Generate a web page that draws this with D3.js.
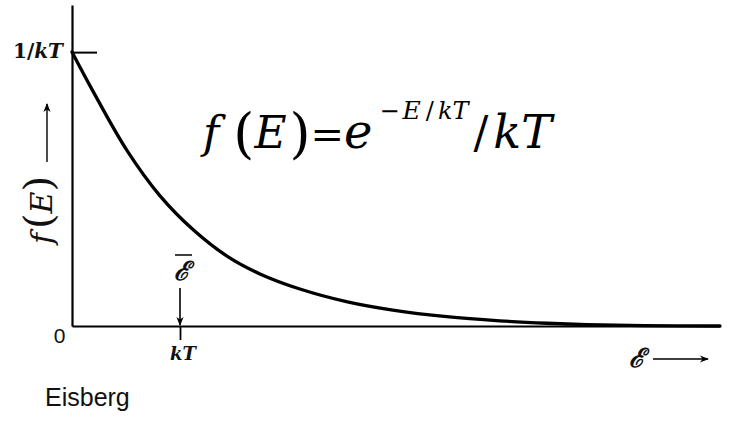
<!DOCTYPE html>
<html>
<head>
<meta charset="utf-8">
<script src="https://cdn.jsdelivr.net/npm/d3@7"></script>
<style>
  html, body { margin: 0; padding: 0; background: #fff; }
  svg { display: block; }
</style>
</head>
<body>
<svg id="chart" width="734" height="421"></svg>
<script>
// Energy in units of kT, probability density in units of 1/kT
const energy  = [0, 0.19, 0.51, 0.815, 1.12, 1.435, 1.74, 2.11, 2.55, 2.97, 3.47, 3.96, 4.40, 4.77, 5.3, 6.0];
const density = [1.0, 0.86, 0.64, 0.475, 0.352, 0.255, 0.19, 0.135, 0.088, 0.058, 0.034, 0.019, 0.010, 0.005, 0.0015, 0.0];
const xTickValues = [1];
const xTickLabels = ["kT"];
const yTickValues = [1];
const yTickLabels = ["1/kT"];

const svg = d3.select("#chart");

const x = d3.scaleLinear().domain([0, 6]).range([72, 720]);
const y = d3.scaleLinear().domain([0, 1]).range([326, 52]);

const serif = "'Liberation Serif', 'DejaVu Serif', serif";
const bookSerif = "'DejaVu Serif', serif";

// y axis: vertical line from zero to above the peak, tick pointing inward
const yAxis = d3.axisLeft(y.copy().domain([0, 1.172]).range([326, 5]))
  .tickValues(yTickValues)
  .tickSizeInner(-25)
  .tickSizeOuter(0)
  .tickFormat(() => "");
const gy = svg.append("g").attr("transform", `translate(${x(0)},0)`).call(yAxis);
gy.select(".domain").attr("stroke", "#000").attr("stroke-width", 2.2);
gy.selectAll(".tick line").attr("stroke", "#000").attr("stroke-width", 2);

// 1/kT label
const [num, den] = yTickLabels[0].split("/");
const yl = svg.append("text")
  .attr("x", 63).attr("y", y(yTickValues[0]) + 6)
  .attr("text-anchor", "end")
  .attr("font-family", bookSerif).attr("font-weight", "bold").attr("font-size", 20)
  .attr("fill", "#111");
yl.append("tspan").text(num + "/");
yl.append("tspan").attr("font-style", "italic").text(den);

// x axis with the kT tick
const xAxis = d3.axisBottom(x)
  .tickValues(xTickValues)
  .tickSizeInner(14)
  .tickSizeOuter(0)
  .tickFormat("");
const gx = svg.append("g").attr("transform", `translate(0,${y(0)})`).call(xAxis);
gx.select(".domain").attr("stroke", "#000").attr("stroke-width", 2.2);
gx.selectAll(".tick line").attr("stroke", "#000").attr("stroke-width", 1.8);

svg.append("text")
  .attr("x", x(xTickValues[0]) + 3).attr("y", y(0) + 34)
  .attr("text-anchor", "middle")
  .attr("font-family", bookSerif).attr("font-weight", "bold").attr("font-style", "italic")
  .attr("font-size", 18).attr("fill", "#111")
  .text(xTickLabels[0]);

// origin label
svg.append("text")
  .attr("x", 59.5).attr("y", y(0) + 17)
  .attr("text-anchor", "middle")
  .attr("font-family", "'Liberation Sans', Arial, sans-serif")
  .attr("font-size", 21).attr("fill", "#111")
  .text("0");

// the distribution curve
const line = d3.line()
  .x((d, i) => x(energy[i]))
  .y(d => y(d))
  .curve(d3.curveCatmullRom.alpha(0.5));
svg.append("path")
  .datum(density)
  .attr("d", line)
  .attr("fill", "none")
  .attr("stroke", "#000")
  .attr("stroke-width", 3.3)
  .attr("stroke-linecap", "round");

// arrow marker
const defs = svg.append("defs");
defs.append("marker")
  .attr("id", "arrow")
  .attr("viewBox", "0 0 10 10")
  .attr("refX", 9).attr("refY", 5)
  .attr("markerWidth", 10).attr("markerHeight", 9)
  .attr("markerUnits", "userSpaceOnUse")
  .attr("orient", "auto")
  .append("path")
  .attr("d", "M0,1 L10,5 L0,9 L3,5 Z")
  .attr("fill", "#000");

// mean energy marker: script E with bar and arrow down to the axis
const meanX = x(xTickValues[0]);
svg.append("text")
  .attr("x", meanX + 2).attr("y", 280)
  .attr("text-anchor", "middle")
  .attr("font-family", serif).attr("font-style", "italic").attr("font-weight", "bold")
  .attr("font-size", 26).attr("fill", "#111")
  .text("\u2130");
svg.append("line")
  .attr("x1", meanX - 5).attr("x2", meanX + 12)
  .attr("y1", 255).attr("y2", 255)
  .attr("stroke", "#111").attr("stroke-width", 1.6);
svg.append("line")
  .attr("x1", meanX).attr("x2", meanX)
  .attr("y1", 288).attr("y2", y(0) - 1)
  .attr("stroke", "#000").attr("stroke-width", 1.6)
  .attr("marker-end", "url(#arrow)");

// x axis title: script E with arrow
svg.append("text")
  .attr("x", 637).attr("y", 367)
  .attr("text-anchor", "middle")
  .attr("font-family", serif).attr("font-style", "italic").attr("font-weight", "bold")
  .attr("font-size", 26).attr("fill", "#111")
  .text("\u2130");
svg.append("line")
  .attr("x1", 653).attr("x2", 708)
  .attr("y1", 359).attr("y2", 359)
  .attr("stroke", "#000").attr("stroke-width", 1.4)
  .attr("marker-end", "url(#arrow)");

// y axis title: f(E) rotated, with arrow
const yt = svg.append("text")
  .attr("transform", "translate(52,210) rotate(-90)")
  .attr("text-anchor", "middle")
  .attr("font-family", bookSerif)
  .attr("font-size", 30).attr("fill", "#111");
yt.append("tspan").attr("font-style", "italic").text("f");
yt.append("tspan").attr("font-size", 40).attr("dx", 4).text("(");
yt.append("tspan").attr("font-style", "italic").text("E");
yt.append("tspan").attr("font-size", 40).text(")");
svg.append("line")
  .attr("x1", 47).attr("x2", 47)
  .attr("y1", 162).attr("y2", 104)
  .attr("stroke", "#000").attr("stroke-width", 1.4)
  .attr("marker-end", "url(#arrow)");

// formula f(E) = e^(-E/kT) / kT, laid out as one flowing line
const pieces = [
  { t: "f",      dx: 0,  dy: 0,   s: 44, i: true },
  { t: "(",      dx: 14, dy: 4,   s: 54, i: false },
  { t: "E",      dx: 0,  dy: -4,  s: 44, i: true },
  { t: ")",      dx: 3,  dy: 4,   s: 54, i: false },
  { t: "=",      dx: 0,  dy: -4,  s: 40, i: false },
  { t: "e",      dx: 0,  dy: 0,   s: 48, i: true },
  { t: "\u2212", dx: 7,  dy: -29, s: 24, i: false },
  { t: "E",      dx: 3,  dy: 0,   s: 25, i: true },
  { t: "/",      dx: 5,  dy: 0,   s: 24, i: false },
  { t: "kT",     dx: 4,  dy: 0,   s: 24, i: true },
  { t: "/",      dx: 5,  dy: 29,  s: 44, i: false },
  { t: "kT",     dx: 5,  dy: 0,   s: 46, i: true }
];
svg.append("text")
  .attr("x", 203).attr("y", 148)
  .attr("font-family", bookSerif).attr("fill", "#000")
  .selectAll("tspan")
  .data(pieces)
  .join("tspan")
  .attr("dx", d => d.dx).attr("dy", d => d.dy)
  .attr("font-size", d => d.s)
  .attr("font-style", d => d.i ? "italic" : "normal")
  .text(d => d.t);

// source
svg.append("text")
  .attr("x", 45).attr("y", 406)
  .attr("font-family", "'Liberation Sans', Arial, sans-serif")
  .attr("font-size", 25).attr("fill", "#111")
  .text("Eisberg");
</script>
</body>
</html>
